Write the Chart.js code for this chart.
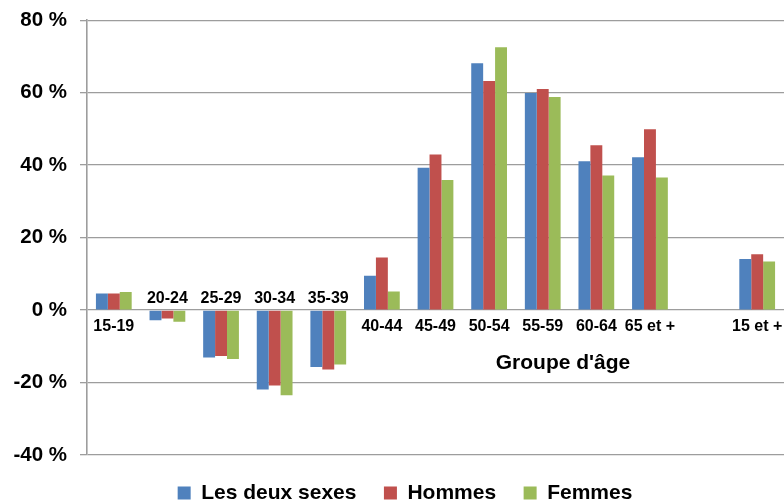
<!DOCTYPE html>
<html>
<head>
<meta charset="utf-8">
<script src="https://cdn.jsdelivr.net/npm/chart.js@4/dist/chart.umd.min.js"></script>
<style>
  html, body { margin: 0; padding: 0; background: #fff; }
  #wrap { width: 784px; height: 503px; }
</style>
</head>
<body>
<div id="wrap"><canvas id="chart" width="784" height="503"></canvas></div>
<script>
// age groups (one empty slot before the total, as in the source)
const groupes = ["15-19", "20-24", "25-29", "30-34", "35-39", "40-44", "45-49", "50-54", "55-59", "60-64", "65 et +", "", "15 et +"]
const deuxSexes = [4.6, -2.8, -13.1, -21.9, -15.7, 9.5, 39.3, 68.1, 59.9, 41.1, 42.2, null, 14.1]
const hommes = [4.6, -2.3, -12.7, -20.8, -16.4, 14.5, 42.9, 63.2, 61.0, 45.5, 49.9, null, 15.4]
const femmes = [5.0, -3.2, -13.5, -23.5, -15.0, 5.1, 35.9, 72.5, 58.8, 37.1, 36.6, null, 13.4]
const yTicks = [-40, -20, 0, 20, 40, 60, 80]

const FONT = "'Liberation Sans', Arial, sans-serif"

// category names sit on the zero line: under it for rising groups, over it for falling ones
const groupLabels = {
  id: "groupLabels",
  afterLayout(chart) {
    // legend is centred a bit right of the canvas middle in the source
    chart.legend.left += 26
  },
  afterDatasetsDraw(chart) {
    const { ctx, scales } = chart
    const zero = scales.y.getPixelForValue(0)
    ctx.save()
    ctx.font = "bold 16px " + FONT
    ctx.fillStyle = "#000"
    ctx.textAlign = "center"
    ctx.textBaseline = "middle"
    groupes.forEach((g, i) => {
      if (!g) return
      const vals = [deuxSexes[i], hommes[i], femmes[i]]
      const x = scales.x.getPixelForValue(i)
      const y = Math.max(...vals) < 0 ? zero - 11 : zero + 17
      ctx.fillText(g, x, y)
    })
    ctx.font = "bold 21px " + FONT
    ctx.fillText("Groupe d'âge", 563, 363)
    ctx.restore()
  },
}

new Chart(document.getElementById("chart"), {
  type: "bar",
  data: {
    labels: groupes,
    datasets: [
      { label: "Les deux sexes", data: deuxSexes, backgroundColor: "#4F81BD" },
      { label: "Hommes", data: hommes, backgroundColor: "#C0504D" },
      { label: "Femmes", data: femmes, backgroundColor: "#9BBB59" },
    ],
  },
  options: {
    responsive: false,
    animation: false,
    devicePixelRatio: 1,
    layout: { padding: { top: 15, right: 0, bottom: -10.5, left: 0 } },
    datasets: { bar: { barPercentage: 1, categoryPercentage: 0.667 } },
    plugins: {
      legend: {
        position: "bottom",
        labels: {
          color: "#000",
          font: { family: FONT, size: 21, weight: "bold" },
          boxWidth: 13,
          boxHeight: 13,
          padding: 27.5,
        },
      },
      tooltip: { enabled: false },
    },
    scales: {
      x: {
        display: false,
      },
      y: {
        min: -40,
        max: 80,
        afterBuildTicks: (s) => { s.ticks = yTicks.map((v) => ({ value: v })) },
        afterFit: (s) => { s.width = 87 },
        ticks: {
          color: "#000",
          padding: 13,
          font: { family: FONT, size: 20.5, weight: "bold", lineHeight: 0.7 },
          callback: (v) => v + " %",
        },
        grid: { color: "#9d9d9d", lineWidth: 1.3, tickLength: 7 },
        border: { color: "#9d9d9d", width: 1.6 },
      },
    },
  },
  plugins: [groupLabels],
})
</script>
</body>
</html>
